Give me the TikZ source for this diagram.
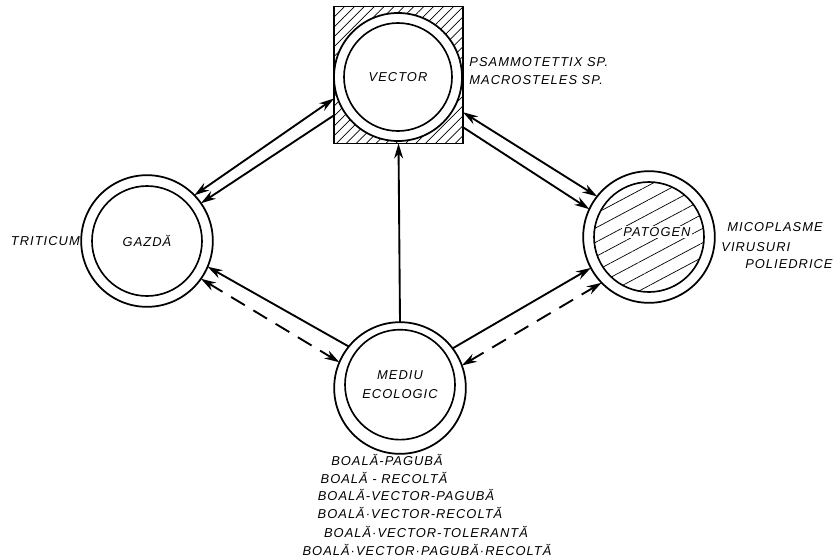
\documentclass[tikz,border=0pt]{standalone}
\usepackage{fontspec}
\newfontfamily\hand[LetterSpace=8]{Liberation Sans}
\newcommand\handsize{\fontsize{11}{13}\selectfont}
\usetikzlibrary{arrows.meta,patterns.meta}
\tikzset{
	>={Stealth[length=4.5mm,width=2.7mm]},
	ring/.style={circle,draw,fill=white,line width=1.5pt,minimum size=39.5mm,inner sep=0pt,outer sep=0pt},
	core/.style={circle,draw,line width=1.4pt,minimum size=33mm,inner sep=0pt,font=\hand\itshape\handsize},
	txt/.style={font=\hand\itshape\handsize,inner sep=1pt},
	link/.style={line width=1.6pt},
	broken/.style={line width=1.6pt,dash pattern=on 4.8mm off 3mm},
}

\begin{document}
\begin{tikzpicture}[x=0.3mm,y=-0.3mm]
		\useasboundingbox (0,0) rectangle (837,559);
		\node[draw,line width=1.5pt,minimum width=38.7mm,minimum height=41.1mm,inner sep=0pt,outer sep=0pt,
			pattern={Lines[angle=45,distance=2.1mm,line width=0.6pt]}] (vector) at (398.5,75) {};
		\node[ring,minimum size=38.4mm] (vectorring) at (398,77) {};
		\node[core,minimum size=32.4mm] (vectorcore) at (vectorring) {VECTOR};
		\node[ring] (gazda) at (147,241) {};
		\node[core] (gazdacore) at (gazda) {GAZDĂ};
		\node[ring] (patogen) at (649,237) {};
		\node[core,pattern={Lines[angle=28,distance=3.8mm,line width=0.6pt]}] (patogencore) at (patogen) {};
		\node[txt,fill=white] (patogenname) at (657,232) {PATOGEN};
		\node[ring] (mediu) at (400,388) {};
		\node[core,align=center] (mediucore) at ([yshift=1mm]mediu) {MEDIU\\[1.1mm]ECOLOGIC};
		\draw[link,<->] (vector.200) -- (gazda.44);
		\draw[link,->] (vector.212) -- (gazda.35);
		\draw[link,<->] (vector.330) -- (patogen.142);
		\draw[link,->] (vector.321) -- (patogen.155);
		\draw[link,->] (mediu.north) -- (vector.south);
		\draw[link,->] (mediu.141) -- (gazda.337);
		\draw[broken,<->] (gazda.325) -- (mediu.157);
		\draw[link,->] (mediu.37) -- (patogen.208);
		\draw[broken,<->] (mediu.20) -- (patogen.224);
		\node[txt,anchor=east] (triticum) at (gazda.west) {TRITICUM};
		\node[txt,anchor=west,align=left] (vectorsp) at (468,71) {PSAMMOTETTIX SP.\\[0.8mm]MACROSTELES SP.};
		\node[txt,anchor=west] (micoplasme) at (726,227) {MICOPLASME};
		\node[txt,anchor=west] (virusuri) at (720,247) {VIRUSURI};
		\node[txt,anchor=east] (poliedrice) at (834,264) {POLIEDRICE};
		\node[txt] (b1) at (387,460) {BOALĂ-PAGUBĂ};
		\node[txt] (b2) at (384,478) {BOALĂ - RECOLTĂ};
		\node[txt] (b3) at (406,495) {BOALĂ-VECTOR-PAGUBĂ};
		\node[txt] (b4) at (410,513) {BOALĂ·VECTOR-RECOLTĂ};
		\node[txt] (b5) at (426,532) {BOALĂ·VECTOR-TOLERANTĂ};
		\node[txt] (b6) at (427,550) {BOALĂ·VECTOR·PAGUBĂ·RECOLTĂ};
	\end{tikzpicture}
\end{document}
